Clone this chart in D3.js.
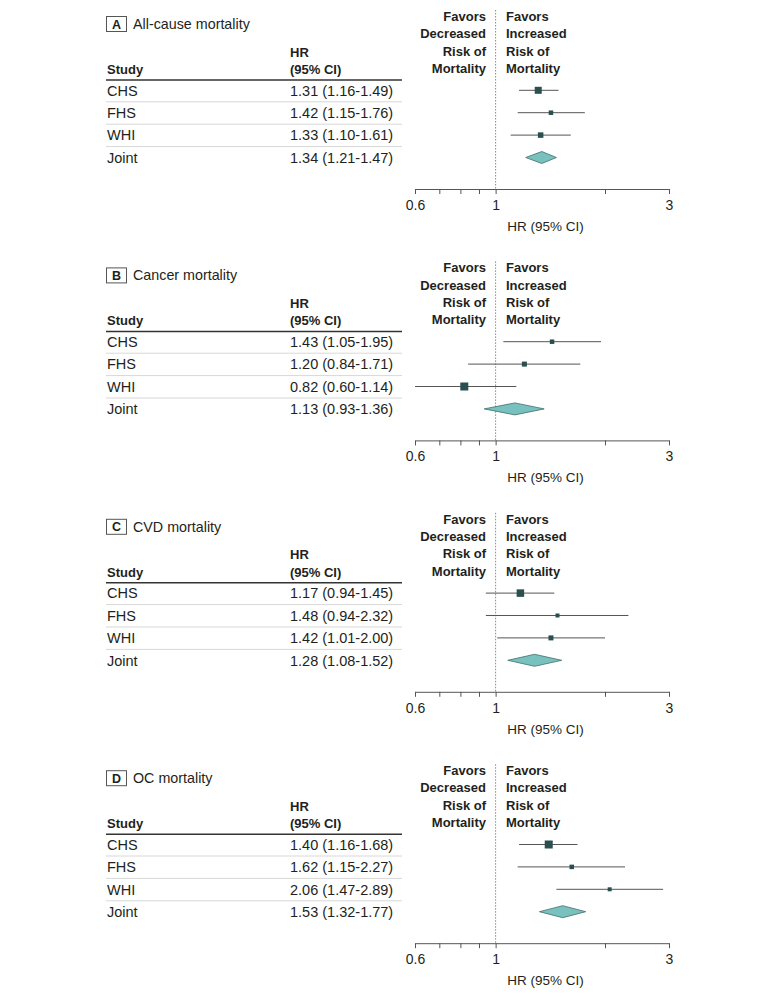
<!DOCTYPE html>
<html>
<head>
<meta charset="utf-8">
<script src="https://cdn.jsdelivr.net/npm/d3@7"></script>
<style>
  body { margin: 0; background: #fff; }
  svg { font-family: "Liberation Sans Narrow", "Liberation Sans", sans-serif; }
</style>
</head>
<body>
<div id="chart"></div>
<script>
const panelLetters = ["A", "B", "C", "D"];
const panelTitles = ["All-cause mortality", "Cancer mortality", "CVD mortality", "OC mortality"];
const studies = ["CHS", "FHS", "WHI", "Joint"];

// [HR, lower, upper] per study, last row is the joint estimate
const allCause = [[1.31, 1.16, 1.49], [1.42, 1.15, 1.76], [1.33, 1.10, 1.61], [1.34, 1.21, 1.47]];
const cancer = [[1.43, 1.05, 1.95], [1.20, 0.84, 1.71], [0.82, 0.60, 1.14], [1.13, 0.93, 1.36]];
const cvd = [[1.17, 0.94, 1.45], [1.48, 0.94, 2.32], [1.42, 1.01, 2.00], [1.28, 1.08, 1.52]];
const oc = [[1.40, 1.16, 1.68], [1.62, 1.15, 2.27], [2.06, 1.47, 2.89], [1.53, 1.32, 1.77]];

// relative study weights (drawn as square size)
const weightsAllCause = [7, 4.5, 5.5];
const weightsCancer = [4.5, 5, 8];
const weightsCvd = [7.5, 4, 5];
const weightsOc = [8, 4.5, 4];

const tickValues = [0.6, 0.7, 0.8, 0.9, 1, 2, 3];
const tickLabels = [0.6, 1, 3];

const panelData = [allCause, cancer, cvd, oc];
const panelWeights = [weightsAllCause, weightsCancer, weightsCvd, weightsOc];

const fmt = d3.format(".2f");
const W = 780, H = 998;
const panelStep = 251.4;
const textColor = "#231f20";

const svg = d3.select("#chart").append("svg")
  .attr("width", W)
  .attr("height", H);

const x = d3.scaleLog().domain([0.6, 3]).range([415, 669]);
const rowY = d3.scalePoint().domain(studies).range([90.3, 157.5]);

panelData.forEach(function (rows, p) {
  const g = svg.append("g").attr("transform", `translate(0, ${p * panelStep})`);

  // panel letter box and title
  g.append("rect")
    .attr("x", 106.5).attr("y", 16.5)
    .attr("width", 20).attr("height", 15)
    .attr("fill", "none").attr("stroke", "#555");
  g.append("text")
    .attr("x", 116.5).attr("y", 28.5)
    .attr("text-anchor", "middle")
    .style("font-size", "12.5px").style("font-weight", "bold")
    .attr("fill", textColor)
    .text(panelLetters[p]);
  g.append("text")
    .attr("x", 133).attr("y", 29)
    .style("font-size", "14.3px")
    .attr("fill", textColor)
    .text(panelTitles[p]);

  // table headers
  const hdr = g.append("g").style("font-size", "13px").style("font-weight", "bold").attr("fill", textColor);
  hdr.append("text").attr("x", 107).attr("y", 74).text("Study");
  hdr.append("text").attr("x", 290).attr("y", 56.5).text("HR");
  hdr.append("text").attr("x", 290).attr("y", 74).text("(95% CI)");
  g.append("line")
    .attr("x1", 106).attr("x2", 402)
    .attr("y1", 80).attr("y2", 80)
    .attr("stroke", "#333").attr("stroke-width", 1.5);

  // favors labels
  const favLeft = ["Favors", "Decreased", "Risk of", "Mortality"];
  const favRight = ["Favors", "Increased", "Risk of", "Mortality"];
  const fav = g.append("g").style("font-size", "13px").style("font-weight", "bold").attr("fill", textColor);
  favLeft.forEach(function (t, k) {
    fav.append("text").attr("x", 486).attr("y", 21 + k * 17.3).attr("text-anchor", "end").text(t);
  });
  favRight.forEach(function (t, k) {
    fav.append("text").attr("x", 506).attr("y", 21 + k * 17.3).text(t);
  });

  // row separators
  studies.slice(0, 3).forEach(function (s) {
    g.append("line")
      .attr("x1", 106).attr("x2", 402)
      .attr("y1", rowY(s) + 11.5).attr("y2", rowY(s) + 11.5)
      .attr("stroke", "#d8d8d8").attr("stroke-width", 1);
  });

  // row text
  rows.forEach(function (d, i) {
    const s = studies[i];
    g.append("text")
      .attr("x", 107).attr("y", rowY(s) + 5.3)
      .style("font-size", "14.5px").attr("fill", textColor)
      .text(s);
    g.append("text")
      .attr("x", 290).attr("y", rowY(s) + 5.3)
      .style("font-size", "14.5px").attr("fill", textColor)
      .text(`${fmt(d[0])} (${fmt(d[1])}-${fmt(d[2])})`);
  });

  // reference line at HR = 1
  g.append("line")
    .attr("x1", x(1)).attr("x2", x(1))
    .attr("y1", 10).attr("y2", 189)
    .attr("stroke", "#888").attr("stroke-width", 1)
    .attr("stroke-dasharray", "1.5,1.5");

  // CI lines and squares for studies
  rows.slice(0, 3).forEach(function (d, i) {
    const s = studies[i];
    const cy = rowY(s);
    g.append("line")
      .attr("x1", x(d[1])).attr("x2", x(d[2]))
      .attr("y1", cy).attr("y2", cy)
      .attr("stroke", "#555").attr("stroke-width", 1);
    const sz = panelWeights[p][i];
    g.append("rect")
      .attr("x", x(d[0]) - sz / 2).attr("y", cy - sz / 2)
      .attr("width", sz).attr("height", sz)
      .attr("fill", "#2a4f4e");
  });

  // joint diamond
  const j = rows[3];
  const jy = rowY("Joint");
  g.append("path")
    .attr("d", `M${x(j[1])},${jy} L${x(j[0])},${jy - 6} L${x(j[2])},${jy} L${x(j[0])},${jy + 6} Z`)
    .attr("fill", "#79c1be")
    .attr("stroke", "#3d6e6c").attr("stroke-width", 0.8);

  // axis
  const axis = g.append("g")
    .attr("transform", "translate(0, 189)")
    .call(d3.axisBottom(x)
      .tickValues(tickValues)
      .tickFormat(d => tickLabels.includes(d) ? String(d) : "")
      .tickSize(5)
      .tickSizeOuter(0)
      .tickPadding(6));
  axis.select(".domain").attr("stroke", "#555");
  axis.selectAll(".tick line").attr("stroke", "#555");
  axis.selectAll(".tick text")
    .style("font-size", "14px")
    .style("font-family", "\"Liberation Sans Narrow\", \"Liberation Sans\", sans-serif")
    .attr("fill", textColor);

  g.append("text")
    .attr("x", 545.5).attr("y", 231)
    .attr("text-anchor", "middle")
    .style("font-size", "13.5px").attr("fill", textColor)
    .text("HR (95% CI)");
});
</script>
</body>
</html>
